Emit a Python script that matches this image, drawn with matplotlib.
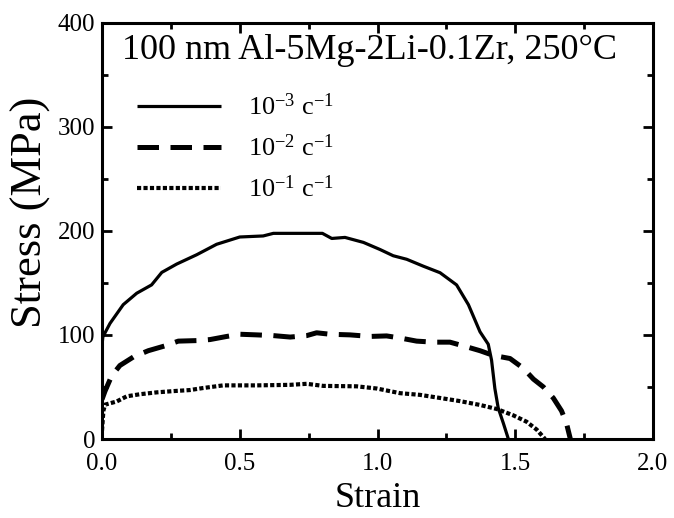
import matplotlib
matplotlib.use("Agg")
import matplotlib.pyplot as plt
from matplotlib.ticker import MultipleLocator

plt.rcParams['font.family'] = ['Liberation Serif', 'DejaVu Serif']
plt.rcParams['mathtext.fontset'] = 'custom'
plt.rcParams['mathtext.rm'] = 'Liberation Serif'
plt.rcParams['mathtext.it'] = 'Liberation Serif'
plt.rcParams['mathtext.default'] = 'regular'

# ---- data ----
strain_1e3 = [0.0, 0.003, 0.029, 0.077, 0.126, 0.18, 0.217, 0.271, 0.344, 0.416, 0.50,
              0.585, 0.622, 0.80, 0.834, 0.882, 0.949, 1.009, 1.057, 1.106, 1.166,
              1.227, 1.287, 1.33, 1.372, 1.402, 1.414, 1.426, 1.438, 1.457, 1.475]
stress_1e3 = [90, 98, 111, 129, 140, 148, 160, 168, 177, 187, 194,
              195, 197.5, 197.5, 192.6, 193.6, 188.8, 182, 176, 172.6, 166,
              159.7, 148, 129, 103, 91, 75.7, 48.5, 30, 15, 0]

strain_1e2 = [0.0, 0.011, 0.035, 0.065, 0.114, 0.168, 0.228, 0.277, 0.343, 0.392, 0.453,
              0.501, 0.561, 0.622, 0.683, 0.743, 0.779, 0.828, 0.900, 0.973, 1.033,
              1.082, 1.142, 1.203, 1.263, 1.324, 1.372, 1.42, 1.481, 1.529, 1.566,
              1.602, 1.638, 1.668, 1.686, 1.70]
stress_1e2 = [38, 46, 60.6, 70.6, 78.8, 84.8, 89.4, 94, 94.5, 95.5, 98.5,
              100.6, 100, 99.3, 97.9, 99.3, 102, 100.6, 100, 98.5, 99,
              97, 94, 93, 93, 88.5, 84.8, 80.3, 77.3, 68, 57.5,
              50, 39.4, 27, 15, 0]

strain_1e1 = [0.0, 0.005, 0.011, 0.053, 0.09, 0.138, 0.199, 0.259, 0.319, 0.368, 0.44,
              0.562, 0.682, 0.743, 0.803, 0.924, 0.997, 1.082, 1.154, 1.227, 1.299,
              1.372, 1.433, 1.493, 1.541, 1.578, 1.608]
stress_1e1 = [8, 27, 33, 36, 41, 43, 44.8, 46, 47, 49, 51.5,
              51.5, 52, 53, 51, 50.6, 48.5, 44, 42.4, 39.4, 36.4,
              32.7, 28.8, 22.7, 16.6, 9, 0]

labels = ['10$^{-3}$ c$^{-1}$', '10$^{-2}$ c$^{-1}$', '10$^{-1}$ c$^{-1}$']
title_text = '100 nm Al-5Mg-2Li-0.1Zr, 250°C'
xticks = [0.0, 0.5, 1.0, 1.5, 2.0]
xticklabels = ['0.0', '0.5', '1.0', '1.5', '2.0']
yticks = [0, 100, 200, 300, 400]

fig = plt.figure(figsize=(6.74, 5.18), dpi=100)
ax = fig.add_axes([102/674, 1 - 439/518, 551/674, (439 - 22.5)/518])

l1, = ax.plot(strain_1e3, stress_1e3, color='black', lw=2.3, solid_capstyle='butt',
              solid_joinstyle='round')
l2, = ax.plot(strain_1e2, stress_1e2, color='black', lw=3.6, dashes=(4.3, 2.3),
              dash_capstyle='butt')
l3, = ax.plot(strain_1e1, stress_1e1, color='black', lw=3.0, dashes=(1.0, 0.55),
              dash_capstyle='butt')

ax.set_xlim(0, 2.0)
ax.set_ylim(0, 400)
ax.set_xticks(xticks)
ax.set_xticklabels(xticklabels)
ax.set_yticks(yticks)
ax.xaxis.set_minor_locator(MultipleLocator(0.25))
ax.yaxis.set_minor_locator(MultipleLocator(50))
ax.tick_params(which='both', direction='in', top=True, right=True, width=2.0, labelsize=18)
ax.tick_params(which='major', length=7)
ax.tick_params(which='minor', length=4.5)
ax.tick_params(axis='x', which='both', pad=10)
ax.tick_params(axis='y', which='both', pad=5)
for s in ax.spines.values():
    s.set_linewidth(2.2)

ax.set_xlabel('Strain', fontsize=26, labelpad=5)
ax.set_ylabel('Stress (MPa)', fontsize=32)
ax.yaxis.set_label_coords(-0.092, 0.545)

ax.text(0.486, 0.933, title_text, transform=ax.transAxes, ha='center', va='center',
        fontsize=26)

leg = ax.legend([l1, l2, l3], labels, loc='upper left', bbox_to_anchor=(0.063, 0.83),
                frameon=False, fontsize=19, handlelength=3.2, handletextpad=1.0,
                labelspacing=0.55, borderaxespad=0, borderpad=0)

fig.savefig('out.png', dpi=100)
